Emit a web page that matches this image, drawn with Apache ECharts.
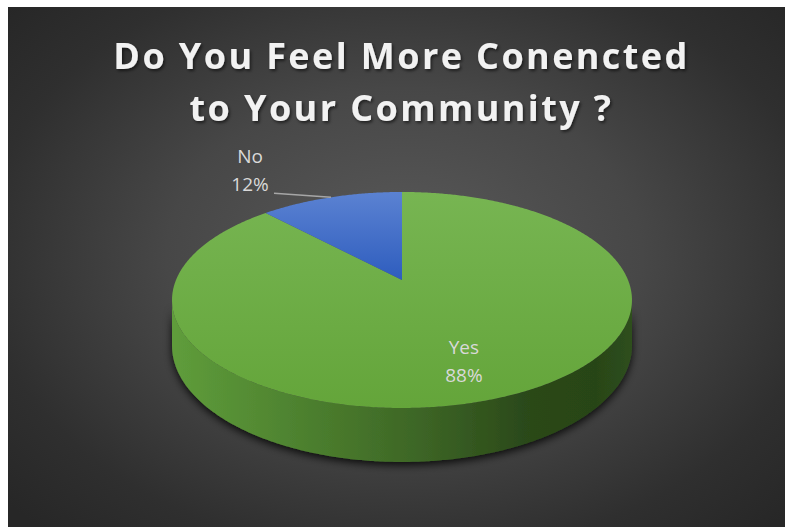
<!DOCTYPE html>
<html>
<head>
<meta charset="utf-8">
<title>Do You Feel More Conencted to Your Community ?</title>
<script src="https://cdn.jsdelivr.net/npm/echarts@6/dist/echarts.min.js"></script>
<style>
  html, body { margin: 0; padding: 0; background: #ffffff; }
  #chart {
    position: absolute; left: 8px; top: 7px; width: 777px; height: 520px;
    background: radial-gradient(ellipse 68% 72% at 51% 48%, #5a5a5a 0%, #474747 45%, #2f2f2f 80%, #272727 100%);
  }
  /* widen the title lettering */
  #chart svg text[style*="36px"], #chart svg tspan[style*="36px"], #chart svg text[font-size="36"] { letter-spacing: 2.4px; }
</style>
</head>
<body>
<div id="chart"></div>
<script>
// Survey answers
const categories = ['Yes', 'No'];
const values = [88, 12];
const titleLines = ['Do You Feel More Conencted', 'to Your Community ?'];

// Slice colours: top face gradient (light -> dark)
const topColors = [['#77b552', '#64a53a'], ['#5b82d2', '#2e5dbe']];

// Tilted-disc geometry (chart pixels)
const CX = 394, CY = 273;        // projected centre of the top face
const RX = 226, RY = 104.3;      // horizontal / vertical radii
const PERSP = 0.185;             // far side shrinks, near side grows
const DEPTH = 44;                // wall height at the centre plane

const total = values.reduce((a, b) => a + b, 0);
const starts = [];
values.reduce((acc, v, i) => { starts[i] = acc; return acc + v; }, 0);

function project(r, phi) {
  const s = Math.sin(phi), c = Math.cos(phi);
  const w = 1 + PERSP * r * c;
  return [CX + RX * r * s / w, CY - RY * r * c / w];
}
function wallHeight(phi) {
  return DEPTH / (1 + PERSP * Math.cos(phi));
}
function arc(r, a, b) {
  const n = Math.max(2, Math.ceil(Math.abs(b - a) / (Math.PI / 360)));
  const pts = [];
  for (let k = 0; k <= n; k++) pts.push(project(r, a + (b - a) * k / n));
  return pts;
}

const SIDE_A = Math.acos(-PERSP);
const SIDE_B = 2 * Math.PI - SIDE_A;

const chart = echarts.init(document.getElementById('chart'), null, { renderer: 'svg' });

function renderItem(params, api) {
  const i = params.dataIndex;
  const v = api.value(0);
  const a0 = starts[i] / total * 2 * Math.PI;
  const a1 = (starts[i] + v) / total * 2 * Math.PI;
  const mid = (a0 + a1) / 2;
  const pct = Math.round(v / total * 100) + '%';
  const children = [];

  // front wall
  const sa = Math.max(a0, SIDE_A), sb = Math.min(a1, SIDE_B);
  if (sa < sb) {
    const topEdge = arc(1, sa, sb);
    const n = topEdge.length - 1;
    const bottomEdge = topEdge.map((p, k) => {
      const phi = sa + (sb - sa) * k / n;
      return [p[0], p[1] + wallHeight(phi)];
    }).reverse();
    children.push({
      type: 'polygon',
      z2: 1,
      shape: { points: topEdge.concat(bottomEdge) },
      style: {
        fill: new echarts.graphic.LinearGradient(CX - RX * 1.02, 0, CX + RX * 1.02, 0, [
          { offset: 0, color: '#5f9d3b' },
          { offset: 0.3, color: '#4c7f2e' },
          { offset: 0.55, color: '#3c6425' },
          { offset: 0.78, color: '#2a4819' },
          { offset: 0.92, color: '#284518' },
          { offset: 1, color: '#2e4f1c' }
        ], true),
        shadowColor: 'rgba(0,0,0,0.85)',
        shadowBlur: 8,
        shadowOffsetY: 3
      }
    });
  }

  // top face
  const topPts = [project(0, 0)].concat(arc(1, a0, a1));
  children.push({
    type: 'polygon',
    z2: 2,
    shape: { points: topPts },
    style: {
      fill: new echarts.graphic.LinearGradient(0, CY - RY / (1 + PERSP), 0, i === 1 ? CY : CY + RY / (1 - PERSP), [
        { offset: 0, color: topColors[i][0] },
        { offset: 1, color: topColors[i][1] }
      ], true)
    }
  });

  const labelFont = { fontFamily: 'Open Sans', fontSize: 19, lineHeight: 28, fill: '#d9d9d9', align: 'center', verticalAlign: 'middle' };
  if (v / total > 0.5) {
    const p = project(0.66, mid);
    children.push({
      type: 'text', z2: 5,
      style: Object.assign({ text: categories[i] + '\n' + pct, x: p[0], y: p[1] + 9 }, labelFont)
    });
  } else {
    const anchor = project(1, mid);
    const elbow = [anchor[0] - 57, anchor[1] - 4];
    children.push({
      type: 'polyline', z2: 5,
      shape: { points: [anchor, elbow] },
      style: { stroke: '#a6a6a6', lineWidth: 1.5, fill: null }
    });
    children.push({
      type: 'text', z2: 5,
      style: Object.assign({ text: categories[i] + '\n' + pct, x: elbow[0] - 24, y: elbow[1] - 23 }, labelFont)
    });
  }
  return { type: 'group', children };
}

chart.setOption({
  backgroundColor: 'transparent',
  animation: false,
  title: {
    text: titleLines.join('\n'),
    left: 388.5,
    textAlign: 'center',
    top: 17,
    textStyle: {
      fontFamily: 'Open Sans',
      fontWeight: 'bold',
      fontSize: 36,
      lineHeight: 52,
      color: '#f2f2f2',
      textShadowColor: 'rgba(0,0,0,0.55)',
      textShadowBlur: 3,
      textShadowOffsetX: 1.5,
      textShadowOffsetY: 2
    }
  },
  series: [{
    type: 'custom',
    coordinateSystem: 'none',
    renderItem: renderItem,
    data: values.map((v, i) => ({ name: categories[i], value: v }))
  }]
});
</script>
</body>
</html>
